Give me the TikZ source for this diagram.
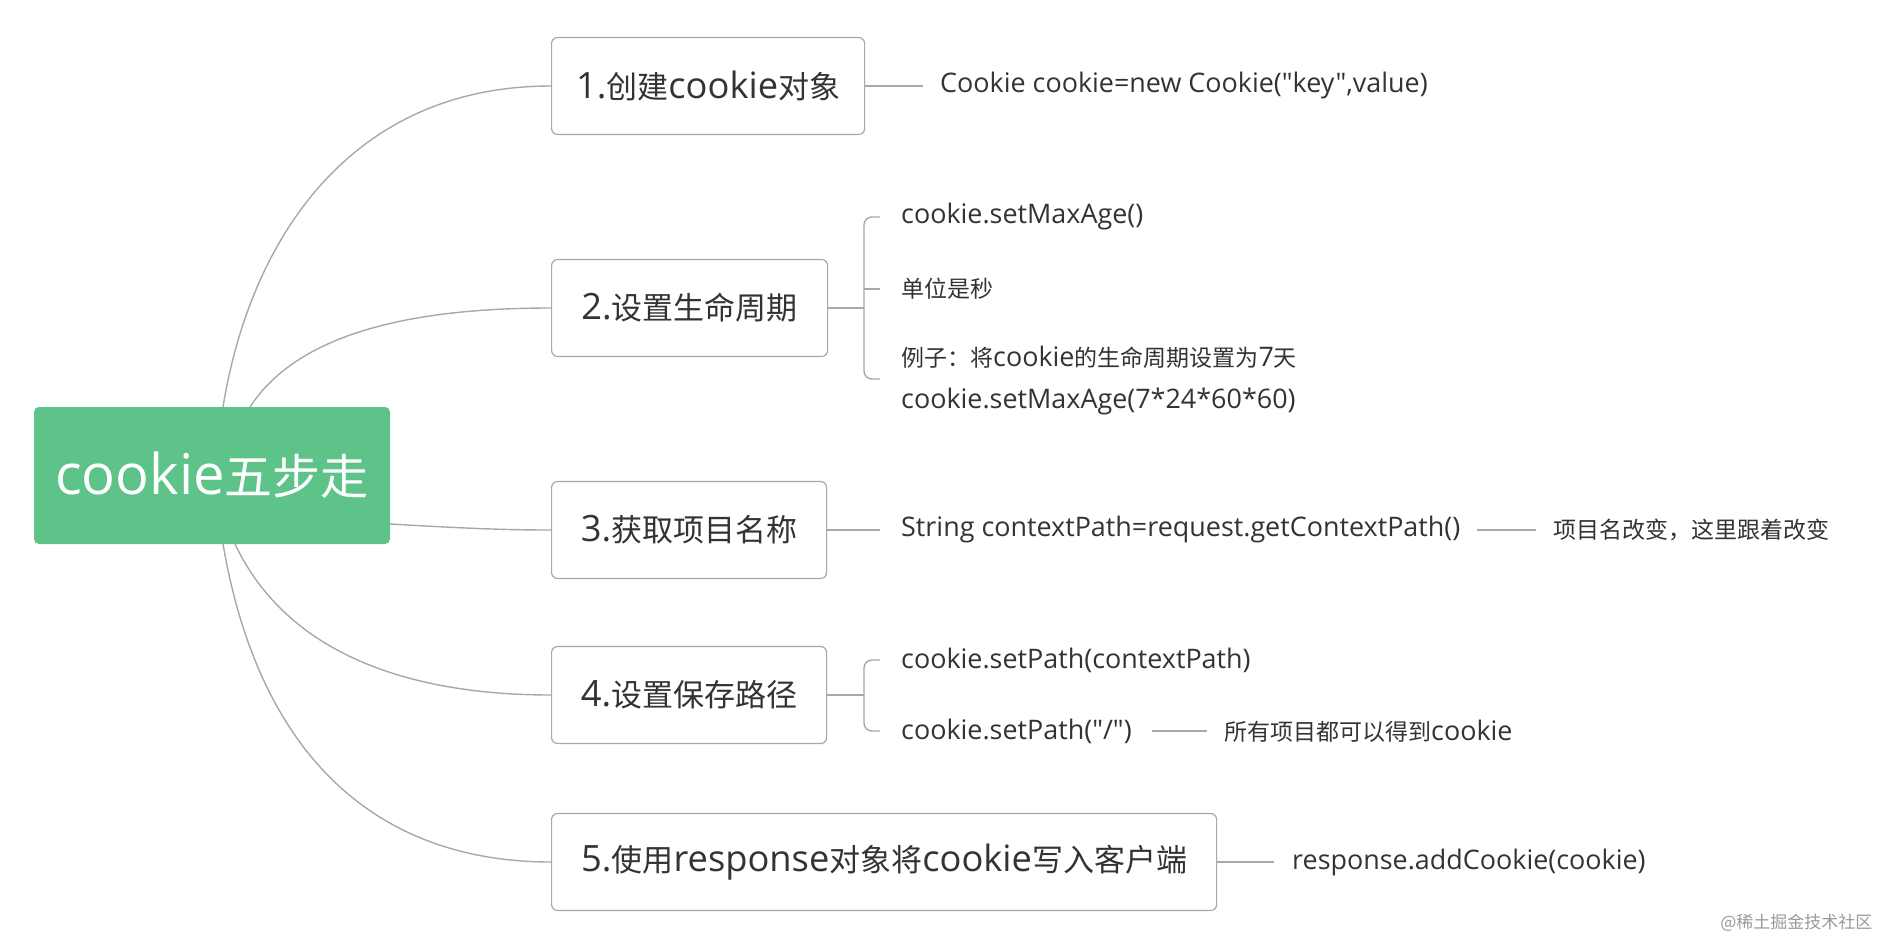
\documentclass[tikz,border=0pt]{standalone}
\usepackage{fontspec}
\setmainfont{Noto Sans CJK SC}
\newfontfamily\latfont[Scale=1.17]{Open Sans}
\newcommand{\lat}[1]{{\latfont #1}}
\usetikzlibrary{positioning}
\definecolor{rootgreen}{HTML}{5DC389}
\definecolor{linegray}{HTML}{A8A8A8}
\definecolor{txtgray}{HTML}{333333}
\tikzset{
	rootbox/.style={fill=rootgreen, rounded corners=5pt, minimum width=356pt, minimum height=137pt, text=white, font=\fontsize{48}{50}\selectfont},
	stepbox/.style={draw=linegray, line width=1.2pt, rounded corners=6pt, minimum height=97pt, text=txtgray, font=\fontsize{31}{34}\selectfont, anchor=west},
	leaf/.style={anchor=west, inner sep=0pt, text=txtgray, font=\fontsize{23}{42}\selectfont, align=left},
	wire/.style={draw=linegray, line width=1.4pt},
}
\begin{document}
\begin{tikzpicture}[x=1pt, y=-1pt]
	\useasboundingbox (0,0) rectangle (1880,940);
	\node[rootbox] (root) at (212,475.5) {\lat{cookie}五步走};
	% steps
	\node[stepbox, minimum width=313pt] (s1) at (551,86)  {\lat{1.}创建\lat{cookie}对象};
	\node[stepbox, minimum width=276pt] (s2) at (551,308) {\lat{2.}设置生命周期};
	\node[stepbox, minimum width=275pt] (s3) at (551,530) {\lat{3.}获取项目名称};
	\node[stepbox, minimum width=275pt] (s4) at (551,695) {\lat{4.}设置保存路径};
	\node[stepbox, minimum width=665pt] (s5) at (551,862) {\lat{5.}使用\lat{response}对象将\lat{cookie}写入客户端};
	% root links
	\draw[wire] (223,407) .. controls (250,240) and (350,86) .. (s1.west);
	\draw[wire] (250,407) .. controls (300,330) and (420,308) .. (s2.west);
	\draw[wire] (root.east |- 0,524) .. controls (460,528) and (500,530) .. (s3.west);
	\draw[wire] (235,544) .. controls (290,660) and (420,695) .. (s4.west);
	\draw[wire] (223,544) .. controls (260,760) and (380,862) .. (s5.west);
	% leaves
	\node[leaf] (l1) at (940,86) {\lat{Cookie cookie=new Cookie("key",value)}};
	\draw[wire] (s1.east) -- (923,86);
	\node[leaf] (l2a) at (901,217) {\lat{cookie.setMaxAge()}};
	\node[leaf] (l2b) at (901,289) {单位是秒};
	\node[leaf] (l2c) at (901,381) {例子：将\lat{cookie}的生命周期设置为\lat{7}天\\\lat{cookie.setMaxAge(7*24*60*60)}};
	\draw[wire] (s2.east) -- (864,308);
	\draw[wire, rounded corners=8pt] (880,217) -- (864,217) -- (864,379) -- (880,379);
	\draw[wire] (864,289) -- (880,289);
	\node[leaf] (l3) at (901,530) {\lat{String contextPath=request.getContextPath()}};
	\node[leaf] (l3n) at (1553,530) {项目名改变，这里跟着改变};
	\draw[wire] (s3.east) -- (880,530);
	\draw[wire] (1477,530) -- (1536,530);
	\node[leaf] (l4a) at (901,660) {\lat{cookie.setPath(contextPath)}};
	\node[leaf] (l4b) at (901,731) {\lat{cookie.setPath("/")}};
	\node[leaf] (l4n) at (1224,731) {所有项目都可以得到\lat{cookie}};
	\draw[wire] (s4.east) -- (864,695);
	\draw[wire, rounded corners=8pt] (880,660) -- (864,660) -- (864,731) -- (880,731);
	\draw[wire] (1152,731) -- (1207,731);
	\node[leaf] (l5) at (1292,862) {\lat{response.addCookie(cookie)}};
	\draw[wire] (s5.east) -- (1274,862);
	\node[anchor=east, text=black!40, font=\fontsize{17}{18}\selectfont] (mark) at (1876,923) {@稀土掘金技术社区};
\end{tikzpicture}
\end{document}
